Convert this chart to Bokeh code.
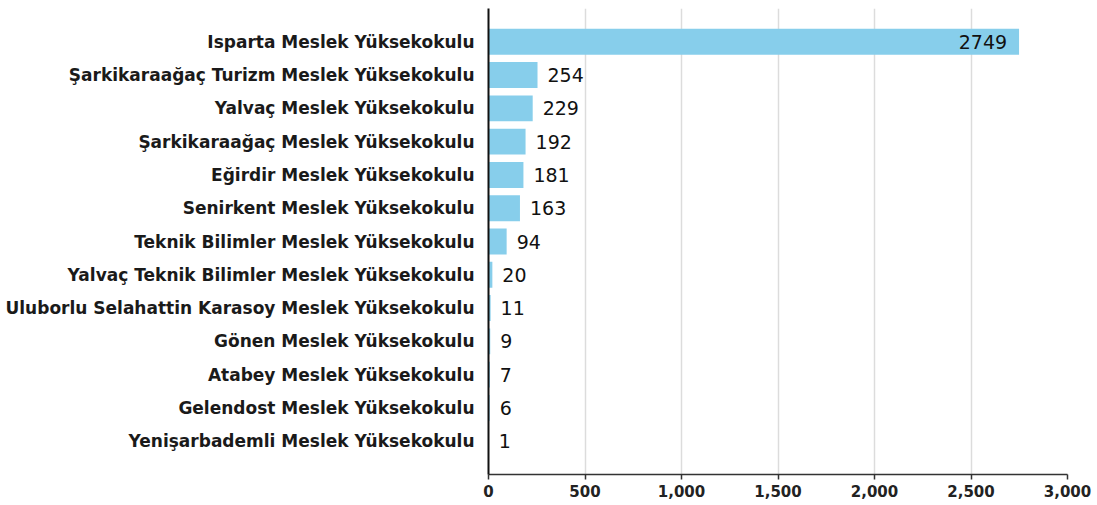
from bokeh.plotting import figure
from bokeh.models import ColumnDataSource, FactorRange, Range1d, NumeralTickFormatter, FixedTicker
from bokeh.core.properties import value
from bokeh.embed import file_html
from bokeh.resources import INLINE

schools = [
    "Isparta Meslek Yüksekokulu",
    "Şarkikaraağaç Turizm Meslek Yüksekokulu",
    "Yalvaç Meslek Yüksekokulu",
    "Şarkikaraağaç Meslek Yüksekokulu",
    "Eğirdir Meslek Yüksekokulu",
    "Senirkent Meslek Yüksekokulu",
    "Teknik Bilimler Meslek Yüksekokulu",
    "Yalvaç Teknik Bilimler Meslek Yüksekokulu",
    "Uluborlu Selahattin Karasoy Meslek Yüksekokulu",
    "Gönen Meslek Yüksekokulu",
    "Atabey Meslek Yüksekokulu",
    "Gelendost Meslek Yüksekokulu",
    "Yenişarbademli Meslek Yüksekokulu",
]
counts = [2749, 254, 229, 192, 181, 163, 94, 20, 11, 9, 7, 6, 1]
x_ticks = [0, 500, 1000, 1500, 2000, 2500, 3000]

max_count = max(counts)
inside = [c > 0.5 * max_count for c in counts]

src_all = ColumnDataSource(dict(name=schools, count=counts, label=[str(c) for c in counts]))
src_out = ColumnDataSource(dict(
    name=[s for s, i in zip(schools, inside) if not i],
    count=[c for c, i in zip(counts, inside) if not i],
    label=[str(c) for c, i in zip(counts, inside) if not i],
))
src_in = ColumnDataSource(dict(
    name=[s for s, i in zip(schools, inside) if i],
    count=[c for c, i in zip(counts, inside) if i],
    label=[str(c) for c, i in zip(counts, inside) if i],
))

p = figure(
    width=1093, height=504,
    y_range=FactorRange(factors=schools[::-1], range_padding=0.5, range_padding_units="absolute"),
    x_range=Range1d(x_ticks[0], x_ticks[-1]),
    output_backend="svg", toolbar_location=None,
    min_border_left=488, min_border_right=26, min_border_top=8, min_border_bottom=30,
)
p.outline_line_color = None

p.hbar(y="name", right="count", left=0, height=0.78, source=src_all,
       fill_color="#87CEEB", line_color=None)

p.text(x="count", y="name", text="label", source=src_out, x_offset=10,
       text_align="left", text_baseline="middle", text_font=value("DejaVu Sans"),
       text_font_size="19px", text_color="#111111")
p.text(x="count", y="name", text="label", source=src_in, x_offset=-12,
       text_align="right", text_baseline="middle", text_font=value("DejaVu Sans"),
       text_font_size="19px", text_color="#111111")

p.xaxis.ticker = FixedTicker(ticks=x_ticks)
p.xaxis.formatter = NumeralTickFormatter(format="0,0")
p.xaxis.axis_line_color = "#333333"
p.xaxis.axis_line_width = 1.5
p.xaxis.major_tick_line_color = "#333333"
p.xaxis.major_tick_line_width = 1.5
p.xaxis.major_tick_out = 5
p.xaxis.major_tick_in = 0
p.xaxis.minor_tick_line_color = None
p.xaxis.major_label_text_font = "DejaVu Sans"
p.xaxis.major_label_text_font_style = "bold"
p.xaxis.major_label_text_font_size = "15px"
p.xaxis.major_label_text_color = "#222222"
p.xaxis.major_label_standoff = 5

p.yaxis.axis_line_color = "#111111"
p.yaxis.axis_line_width = 2
p.yaxis.major_tick_line_color = None
p.yaxis.minor_tick_line_color = None
p.yaxis.major_label_text_font = "DejaVu Sans"
p.yaxis.major_label_text_font_style = "bold"
p.yaxis.major_label_text_font_size = "17px"
p.yaxis.major_label_text_color = "#1a1a1a"
p.yaxis.major_label_standoff = 8

p.ygrid.grid_line_color = None
p.xgrid.grid_line_color = "#dcdcdc"
p.xgrid.grid_line_width = 1.5

open("out.html", "w").write(file_html(p, INLINE))
